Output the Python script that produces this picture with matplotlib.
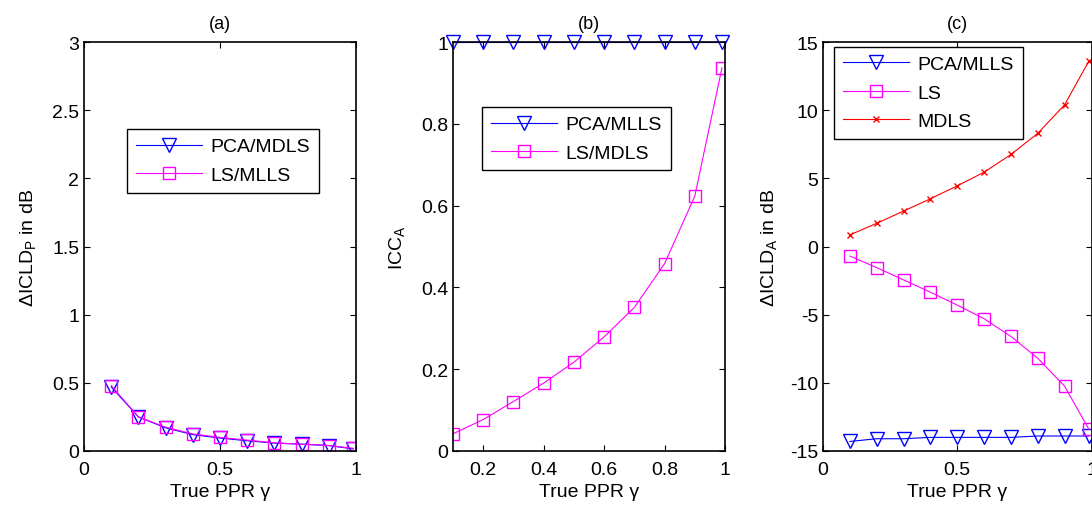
import matplotlib as mpl
mpl.use('Agg')
import matplotlib.pyplot as plt
from matplotlib.ticker import FormatStrFormatter

plt.rcParams['font.family'] = ['Liberation Sans', 'DejaVu Sans']
plt.rcParams['mathtext.fontset'] = 'custom'
plt.rcParams['mathtext.rm'] = 'Liberation Sans'
plt.rcParams['mathtext.sf'] = 'Liberation Sans'
plt.rcParams['mathtext.it'] = 'Liberation Sans:italic'

# true PPR values
gamma = [0.1, 0.2, 0.3, 0.4, 0.5, 0.6, 0.7, 0.8, 0.9, 0.99]

# (a) delta ICLD_P
a_pca_mdls = [0.47, 0.25, 0.17, 0.12, 0.095, 0.075, 0.058, 0.05, 0.04, 0.015]
a_ls_mlls = [0.48, 0.25, 0.175, 0.125, 0.10, 0.08, 0.06, 0.05, 0.04, 0.02]

# (b) ICC_A
b_pca_mlls = [1, 1, 1, 1, 1, 1, 1, 1, 1, 1]
b_ls_mdls = [0.042, 0.077, 0.121, 0.166, 0.217, 0.279, 0.351, 0.458, 0.623, 0.937]

# (c) delta ICLD_A
c_pca_mlls = [-14.3, -14.1, -14.1, -14.0, -14.0, -14.0, -14.0, -13.9, -13.9, -13.9]
c_ls = [-0.7, -1.55, -2.45, -3.35, -4.3, -5.3, -6.6, -8.2, -10.25, -13.4]
c_mdls = [0.85, 1.7, 2.6, 3.5, 4.45, 5.45, 6.75, 8.3, 10.4, 13.6]

fs = 14
fig = plt.figure(figsize=(10.92, 5.06), dpi=100)
W, H = 1092, 506
ax1 = fig.add_axes([84 / W, 54 / H, 272 / W, 409 / H])
ax2 = fig.add_axes([453 / W, 54 / H, 272 / W, 409 / H])
ax3 = fig.add_axes([823 / W, 54 / H, 268.5 / W, 409 / H])

tri = dict(marker='v', markersize=10, markerfacecolor='none', lw=0.8)
sq = dict(marker='s', markersize=9, markerfacecolor='none', lw=0.8)
leg = dict(loc='upper left', fontsize=14, handlelength=3.4, handletextpad=0.45,
           fancybox=False, edgecolor='black', framealpha=1, borderaxespad=0,
           borderpad=0.45, labelspacing=0.55)

# (a)
ax1.plot(gamma, a_pca_mdls, color='blue', markeredgecolor='blue', label='PCA/MDLS', **tri)
ax1.plot(gamma, a_ls_mlls, color='magenta', markeredgecolor='magenta', label='LS/MLLS', **sq)
ax1.set_xlim(0, 1)
ax1.set_ylim(0, 3)
ax1.set_xticks([0, 0.5, 1])
ax1.set_yticks([0, 0.5, 1, 1.5, 2, 2.5, 3])
ax1.set_ylabel(r'$\Delta$ICLD$_{\mathrm{P}}$ in dB', fontsize=fs, labelpad=10)
ax1.set_title('(a)', fontsize=13, pad=10)
ax1.legend(bbox_to_anchor=(0.158, 0.787), **leg)

# (b)
ax2.plot(gamma, b_pca_mlls, color='blue', markeredgecolor='blue', label='PCA/MLLS', clip_on=False, **tri)
ax2.plot(gamma, b_ls_mdls, color='magenta', markeredgecolor='magenta', label='LS/MDLS', **sq)
ax2.set_xlim(0.1, 1)
ax2.set_ylim(0, 1)
ax2.set_xticks([0.2, 0.4, 0.6, 0.8, 1])
ax2.set_yticks([0, 0.2, 0.4, 0.6, 0.8, 1])
ax2.set_ylabel(r'ICC$_{\mathrm{A}}$', fontsize=fs, labelpad=10)
ax2.set_title('(b)', fontsize=13, pad=10)
ax2.legend(bbox_to_anchor=(0.107, 0.841), **leg)

# (c)
ax3.plot(gamma, c_pca_mlls, color='blue', markeredgecolor='blue', label='PCA/MLLS', **tri)
ax3.plot(gamma, c_ls, color='magenta', markeredgecolor='magenta', label='LS', **sq)
ax3.plot(gamma, c_mdls, color='red', marker='x', markersize=5, lw=0.8, label='MDLS')
ax3.set_xlim(0, 1)
ax3.set_ylim(-15, 15)
ax3.set_xticks([0, 0.5, 1])
ax3.set_yticks([-15, -10, -5, 0, 5, 10, 15])
ax3.set_ylabel(r'$\Delta$ICLD$_{\mathrm{A}}$ in dB', fontsize=fs, labelpad=8)
ax3.set_title('(c)', fontsize=13, pad=10)
ax3.legend(bbox_to_anchor=(0.041, 0.988), **leg)

for ax in (ax1, ax2, ax3):
    ax.set_xlabel('True PPR γ', fontsize=fs, labelpad=4)
    ax.tick_params(direction='in', length=4, top=True, right=True, labelsize=fs)
    ax.tick_params(axis='x', pad=7)
    ax.xaxis.set_major_formatter(FormatStrFormatter('%g'))
    ax.yaxis.set_major_formatter(FormatStrFormatter('%g'))
    for s in ax.spines.values():
        s.set_linewidth(1.2)

fig.savefig('out.png', dpi=100)
